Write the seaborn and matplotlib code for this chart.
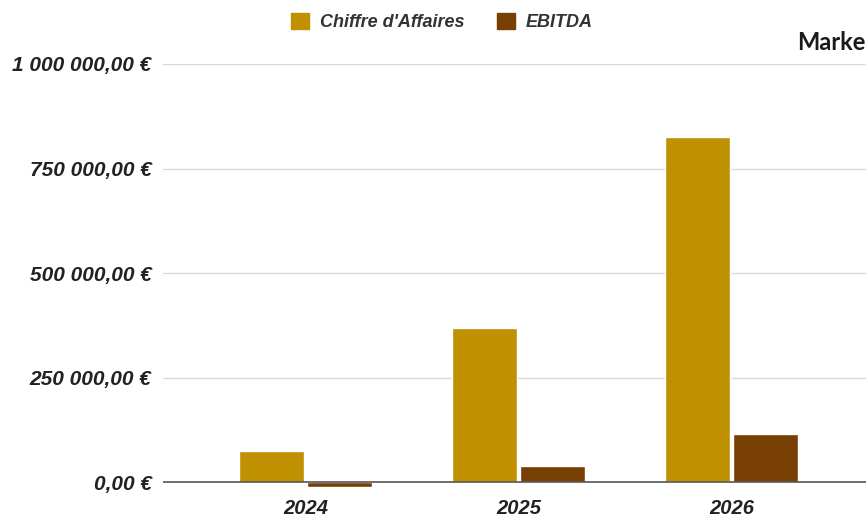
import numpy as np
import pandas as pd
import matplotlib
matplotlib.use("Agg")
import matplotlib.pyplot as plt
import seaborn as sns
from matplotlib.ticker import FuncFormatter
from matplotlib.patches import Patch

# ---------- Data ----------
years = ["2024", "2025", "2026"]
chiffre_affaires = [74000, 368000, 825000]
ebitda = [-12000, 38000, 115000]
series_names = ["Chiffre d'Affaires", "EBITDA"]
colors = ["#BF9000", "#783F04"]
y_ticks = [0, 250000, 500000, 750000, 1000000]

df = pd.DataFrame({
    "Année": years * 2,
    "Valeur": chiffre_affaires + ebitda,
    "Série": [series_names[0]] * len(years) + [series_names[1]] * len(years),
})

# ---------- Plot ----------
sns.set_style("white")
plt.rcParams["font.family"] = ["Liberation Sans", "DejaVu Sans"]

fig = plt.figure(figsize=(8.66, 5.19), dpi=100)
ax = fig.add_axes([0.188, 0.0551, 0.812, 0.8216])

sns.barplot(
    data=df, x="Année", y="Valeur", hue="Série",
    palette=colors, width=0.64, gap=0.05, ax=ax,
    legend=False, saturation=1,
)

ax.set_xlim(-0.67, 2.63)
ax.set_ylim(-20000, 1000000)
ax.set_yticks(y_ticks)

def euro(v, pos):
    s = f"{v:,.2f}".replace(",", " ").replace(".", ",")
    return f"{s} €"

ax.yaxis.set_major_formatter(FuncFormatter(euro))
for y in y_ticks[1:]:
    ax.axhline(y, color="#D9D9D9", lw=1, zorder=0)
ax.axhline(0, color="#555555", lw=1.2, zorder=3)

for s in ax.spines.values():
    s.set_visible(False)
ax.tick_params(axis="both", length=0)
ax.tick_params(axis="y", pad=8)
ax.tick_params(axis="x", pad=6)
for lab in ax.get_yticklabels():
    lab.set_fontsize(15)
for lab in ax.get_xticklabels():
    lab.set_fontsize(14.5)
for lab in ax.get_yticklabels() + ax.get_xticklabels():
    lab.set_fontweight("bold")
    lab.set_fontstyle("italic")
    lab.set_color("#222222")
ax.set_xlabel("")
ax.set_ylabel("")

handles = [Patch(facecolor=c, edgecolor=c) for c in colors]
leg = fig.legend(
    handles, series_names, loc="center", bbox_to_anchor=(0.51, 0.957),
    ncol=2, frameon=False, handlelength=1.0, handleheight=1.0,
    columnspacing=1.8, handletextpad=0.6,
    prop={"size": 13, "weight": "bold", "style": "italic"},
)
for t in leg.get_texts():
    t.set_color("#333333")

fig.text(0.921, 0.919, "Marke", fontsize=17, fontweight="bold",
         color="#1A1A1A", ha="left", va="center",
         family=["Lato", "DejaVu Sans"])

fig.savefig("out.png", dpi=100)
